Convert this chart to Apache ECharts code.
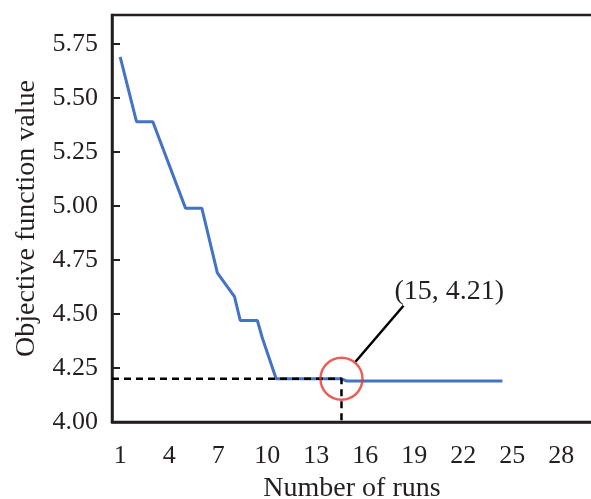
<!DOCTYPE html>
<html>
<head>
<meta charset="utf-8">
<script src="https://cdn.jsdelivr.net/npm/echarts@6/dist/echarts.min.js"></script>
<style>
  html, body { margin: 0; padding: 0; background: #ffffff; }
  #chart { width: 591px; height: 499px; }
</style>
</head>
<body>
<div id="chart"></div>
<script>
// ---- data ----
const runs      = [1, 2, 3, 5, 6, 6.95, 8, 8.35, 9.4, 9.7, 10.55, 14.55, 14.85, 24.4];
const objective = [5.69, 5.39, 5.39, 4.99, 4.99, 4.69, 4.58, 4.47, 4.47, 4.39, 4.20, 4.20, 4.19, 4.19];
const runCategories = ['1','2','3','4','5','6','7','8','9','10','11','12','13','14','15',
                       '16','17','18','19','20','21','22','23','24','25','26','27','28','29','30'];
const yTicks = [4.00, 4.25, 4.50, 4.75, 5.00, 5.25, 5.50, 5.75];
const optimum = [14.55, 4.20];
const optimumLabel = '(15, 4.21)';

const FONT = '"Liberation Serif", "Times New Roman", serif';
const INK = '#231f20';

const chart = echarts.init(document.getElementById('chart'), null, { renderer: 'canvas' });

const linePoints = runs.map((r, i) => [r, objective[i]]);
const guide = [[0.5, optimum[1]], optimum, [optimum[0], yTicks[0]]];

chart.setOption({
  animation: false,
  backgroundColor: '#ffffff',
  grid: {
    left: 112, top: 15, right: -11, bottom: 77,
    outerBoundsMode: 'none', containLabel: false,
    show: true, borderColor: INK, borderWidth: 2.5, backgroundColor: 'transparent'
  },
  xAxis: [
    {
      type: 'category',
      data: runCategories,
      boundaryGap: true,
      axisLine: { lineStyle: { color: INK, width: 2.5 } },
      axisTick: { inside: true, length: 7, interval: 2, lineStyle: { color: INK, width: 2 } },
      axisLabel: { interval: 2, margin: 21, fontFamily: FONT, fontSize: 26, color: INK },
      splitLine: { show: false },
      name: 'Number of runs',
      nameLocation: 'middle',
      nameGap: 53,
      nameTextStyle: { fontFamily: FONT, fontSize: 28, color: INK, padding: [0, 10, 0, 0] }
    },
    { type: 'value', min: 0.5, max: 30.5, show: false }
  ],
  yAxis: {
    type: 'value',
    min: yTicks[0], max: 5.884, interval: 0.25,
    axisLine: { show: true, lineStyle: { color: INK, width: 2.5 } },
    axisTick: { show: true, inside: true, length: 8, lineStyle: { color: INK, width: 2 } },
    axisLabel: { showMaxLabel: false, margin: 14, fontFamily: FONT, fontSize: 26, color: INK,
                 formatter: v => v.toFixed(2) },
    splitLine: { show: false },
    name: 'Objective function value',
    nameLocation: 'middle',
    nameGap: 71,
    nameTextStyle: { fontFamily: FONT, fontSize: 28, color: INK }
  },
  series: [
    {
      type: 'line', xAxisIndex: 1, data: linePoints, showSymbol: false, symbol: 'none',
      lineStyle: { color: '#4472c4', width: 3 }, z: 3
    },
    {
      type: 'line', xAxisIndex: 1, data: guide, showSymbol: false, symbol: 'none',
      lineStyle: { color: '#000000', width: 2.5, type: [7, 5] }, z: 4
    },
    {
      type: 'scatter', xAxisIndex: 1, data: [optimum], symbol: 'circle', symbolSize: 42,
      itemStyle: { color: 'rgba(0,0,0,0)', borderColor: '#e8352a', borderWidth: 2.5 }, z: 5,
      silent: true
    }
  ]
});

const p = chart.convertToPixel({ xAxisIndex: 1, yAxisIndex: 0 }, optimum);
chart.setOption({
  graphic: [
    {
      type: 'line',
      shape: { x1: p[0] + 14, y1: p[1] - 17, x2: p[0] + 62, y2: p[1] - 73 },
      style: { stroke: '#000000', lineWidth: 2.5 },
      z: 10
    },
    {
      type: 'text',
      x: p[0] + 53, y: p[1] - 87,
      style: { text: optimumLabel, font: '28px ' + FONT, fill: INK,
               textAlign: 'left', textVerticalAlign: 'middle' },
      z: 10
    }
  ]
});
</script>
</body>
</html>
